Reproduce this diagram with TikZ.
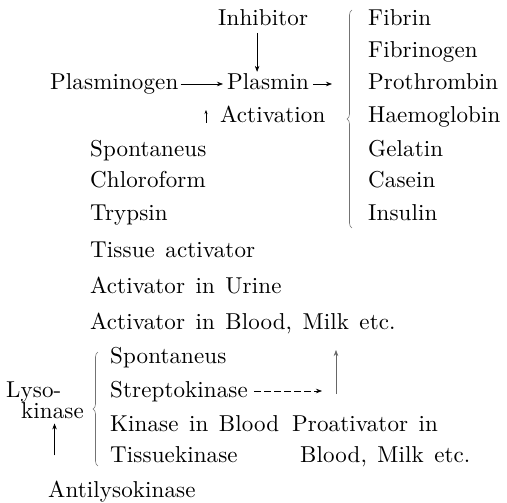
\documentclass[tikz,border=0pt]{standalone}
\usepackage{fontspec}
\usepackage{tikz}
\usetikzlibrary{arrows.meta,calc,decorations.pathreplacing}
\newfontfamily\scanfont{lmroman10-regular.otf}[LetterSpace=0.5,WordSpace=1.35]
\tikzset{
  item/.style={anchor=base west, inner sep=0pt, font=\scanfont\fontsize{23}{28}\selectfont},
  flow/.style={draw=black, line width=0.6pt, -{Stealth[length=6pt,width=4.5pt]}},
  sflow/.style={flow, -{Stealth[length=4pt,width=3pt]}},
  dflow/.style={flow, dash pattern=on 7pt off 3pt},
  brc/.style={draw=black!55, line width=0.6pt, decorate, decoration={brace, amplitude=5pt}}
}
\begin{document}
\begin{tikzpicture}[x=1pt, y=-1pt]
  \useasboundingbox (0,0) rectangle (507,503);
  % reaction
  \node[item] (inh) at (218,26) {Inhibitor};
  \node[item] (plg) at (50,90) {Plasminogen};
  \node[item] (pls) at (227,90) {Plasmin};
  \node[item] (acti) at (220,123) {Activation};
  % substrates
  \foreach \i/\y/\t in {1/26/Fibrin, 2/58/Fibrinogen, 3/90/Prothrombin, 4/123/Haemoglobin,
      5/157/Gelatin, 6/188/Casein, 7/221/Insulin}
    \node[item] (sub\i) at (368,\y) {\t};
  \draw[brc] (352,228) -- (352,10);
  % activators
  \foreach \i/\y/\t in {1/157/Spontaneus, 2/188/Chloroform, 3/221/Trypsin, 4/257/Tissue activator,
      5/293/Activator in Urine, 6/329/{Activator in Blood, Milk etc.}}
    \node[item] (act\i) at (90,\y) {\t};
  % lysokinase
  \foreach \i/\y/\t in {1/363/Spontaneus, 2/397/Streptokinase, 3/431/Kinase in Blood, 4/462/Tissuekinase}
    \node[item] (kin\i) at (110,\y) {\t};
  \draw[brc] (98,466) -- (98,352);
  \node[item] (lyso) at (6,397) {Lyso-};
  \node[item] (lysok) at (21,418) {kinase};
  \node[item] (pro1) at (292,431) {Proativator in};
  \node[item] (pro2) at (300,462) {Blood, Milk etc.};
  \node[item] (anti) at (48,497) {Antilysokinase};
  \coordinate (jn) at (336,394);

  \draw[flow] ($(inh.base)+(-6,7)$) -- ($(inh.base |- pls.north)+(-6,-2)$);
  \draw[flow] ($(plg.base east)+(2,-6)$) -- ($(pls.base west)+(-4,-6)$);
  \draw[flow] ($(pls.base east)+(4,-6)$) -- ($(sub3.base west)+(-36,-6)$);
  \draw[sflow] ($(acti.base west)+(-14,0)$) -- ($(acti.base west)+(-14,-13)$);
  \draw[dflow] ($(kin2.base east)+(6,-6)$) -- ($(kin2.base east -| jn)+(-14,-6)$);
  \draw[flow, draw=black!60] (jn) -- ($(jn |- act6.base)+(0,21)$);
  \draw[flow] ($(anti.north -| lysok.south)+(2,-25)$) -- ($(lysok.south)+(2,5)$);
\end{tikzpicture}
\end{document}
